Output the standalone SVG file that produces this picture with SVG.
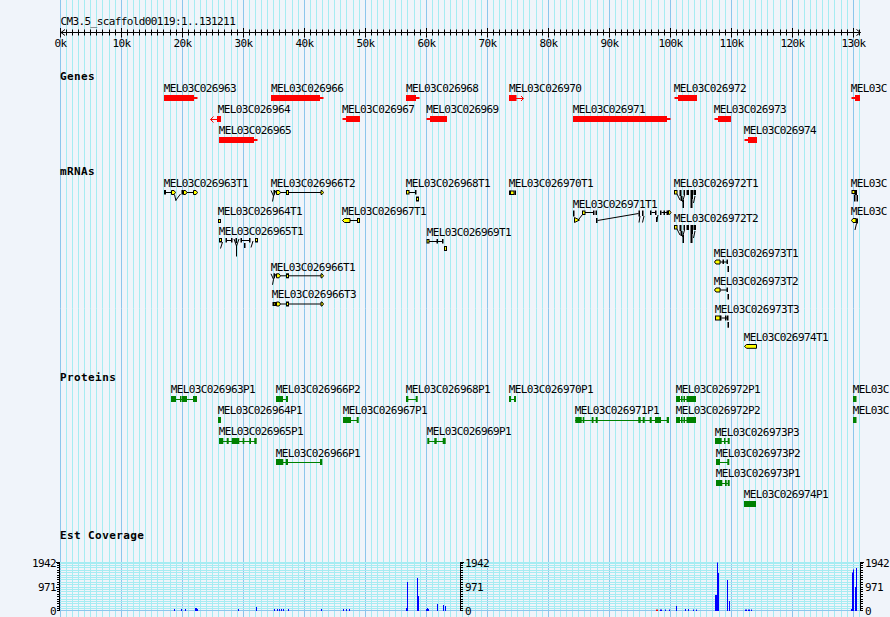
<svg xmlns="http://www.w3.org/2000/svg" width="890" height="617" viewBox="0 0 890 617">
<style>
text{font-family:"DejaVu Sans Mono","Liberation Mono",monospace;font-size:11px;letter-spacing:-0.6px;fill:#000}
.b{font-weight:bold;letter-spacing:0.4px}
.mid{text-anchor:middle}
.end{text-anchor:end}
.gene{fill:#ff0000}
.gl{stroke:#ff0000;stroke-width:1;fill:none}
.prot{fill:#008000}
.pl{stroke:#008000;stroke-width:1;fill:none}
.y{fill:#ffff00;stroke:#000;stroke-width:1}
.k{fill:#000}
.ln{stroke:#000;stroke-width:1;fill:none}
.cov{fill:#0000ff}
.hg{stroke:#a6ecf2;stroke-width:1;fill:none}
.ax{stroke:#000;stroke-width:1;fill:none}
</style>
<defs>
<pattern id="grid" patternUnits="userSpaceOnUse" x="60" y="0" width="61" height="617">
<path d="M6.5,0V617M12.5,0V617M18.5,0V617M24.5,0V617M30.5,0V617M36.5,0V617M42.5,0V617M49.5,0V617M55.5,0V617" stroke="#a6ecf2" stroke-width="1"/>
<path d="M0.5,0V617" stroke="#8cc6ec" stroke-width="1"/>
</pattern>
<pattern id="ticks" patternUnits="userSpaceOnUse" x="60" y="27" width="61" height="12">
<path d="M6.5,2.5V8.5M12.5,2.5V8.5M18.5,2.5V8.5M24.5,2.5V8.5M30.5,2.5V8.5M36.5,2.5V8.5M42.5,2.5V8.5M49.5,2.5V8.5M55.5,2.5V8.5M0.5,1V10.5" stroke="#000" stroke-width="1"/>
</pattern>
<g id="t966tail">
<polygon class="y" points="276.5,0.5 279,0.5 280.5,2.5 279,4.5 276.5,4.5"/>
<path class="ln" d="M280.5,2.5H286.5M288.5,2.5H321"/>
<rect class="y" x="286.5" y="0.5" width="2" height="4"/>
<polygon class="y" points="321,0.5 322,0.5 323.5,2.5 322,4.5 321,4.5"/>
</g>
<g id="h966">
<path class="ln" d="M271,0.5L273.5,6L276,0.5M273.5,6L272.5,11.5"/>
<rect class="k" x="273.5" y="0" width="1.5" height="4.5"/>
</g>
<g id="s972">
<rect class="y" x="674.5" y="0.5" width="2.5" height="3.5"/>
<path class="ln" d="M677,4L680,10M684.5,5L682.5,12M695,6L693.5,13"/>
<rect class="k" x="679.5" y="0" width="2" height="6"/>
<rect class="k" x="680.5" y="6" width="2" height="5"/>
<rect class="k" x="683.5" y="0" width="1.5" height="5"/>
<rect class="k" x="686.5" y="0" width="2.5" height="5"/>
<rect class="k" x="690.5" y="0" width="2.5" height="9"/>
<rect class="k" x="682.5" y="10" width="1.5" height="8"/>
<rect class="k" x="690.5" y="9" width="2" height="9"/>
<rect class="k" x="693.5" y="0" width="2.5" height="5"/>
</g>
<g id="p972">
<path class="pl" d="M676,3.5H696"/>
<rect class="prot" x="676" y="0" width="4" height="6"/>
<rect class="prot" x="681" y="0" width="1.5" height="6"/>
<rect class="prot" x="683.5" y="0" width="1.5" height="6"/>
<rect class="prot" x="686.5" y="0" width="9.5" height="6"/>
</g>
</defs>

<rect x="0" y="0" width="890" height="617" fill="#f0f4fa"/>
<rect x="60" y="0" width="801" height="617" fill="url(#grid)"/>

<g id="ruler">
<text x="60.5" y="25">CM3.5_scaffold00119:1..131211</text>
<path class="ax" d="M60.5,32.5H860.5M65,29.5L61,32.5L65,35.5M856.5,29.5L860.5,32.5L856.5,35.5"/>
<rect x="60" y="27" width="801" height="12" fill="url(#ticks)"/>
<text class="mid" x="60.5" y="46.5">0k</text>
<text class="mid" x="121.5" y="46.5">10k</text>
<text class="mid" x="182.5" y="46.5">20k</text>
<text class="mid" x="243.5" y="46.5">30k</text>
<text class="mid" x="304.5" y="46.5">40k</text>
<text class="mid" x="365.5" y="46.5">50k</text>
<text class="mid" x="426.5" y="46.5">60k</text>
<text class="mid" x="487.5" y="46.5">70k</text>
<text class="mid" x="548.5" y="46.5">80k</text>
<text class="mid" x="609.5" y="46.5">90k</text>
<text class="mid" x="670.5" y="46.5">100k</text>
<text class="mid" x="731.5" y="46.5">110k</text>
<text class="mid" x="792.5" y="46.5">120k</text>
<text class="mid" x="853.5" y="46.5">130k</text>
</g>

<g id="track-labels">
<text class="b" x="60" y="80">Genes</text>
<text class="b" x="60" y="175">mRNAs</text>
<text class="b" x="60" y="381">Proteins</text>
<text class="b" x="60" y="539">Est Coverage</text>
</g>

<g id="genes">
<g id="MEL03C026963"><text x="163.7" y="92.3">MEL03C026963</text><polygon class="gene" points="164,95 194,95 194,97 197,97 198,98 197,99 194,99 194,101 164,101"/></g>
<g id="MEL03C026966"><text x="271" y="92.3">MEL03C026966</text><polygon class="gene" points="271,95 320,95 320,97 323,97 324,98 323,99 320,99 320,101 271,101"/></g>
<g id="MEL03C026968"><text x="406" y="92.3">MEL03C026968</text><polygon class="gene" points="406,95 416,95 416,97 419,97 420,98 419,99 416,99 416,101 406,101"/></g>
<g id="MEL03C026970"><text x="509" y="92.3">MEL03C026970</text><rect class="gene" x="509" y="95" width="7.5" height="6"/><path class="gl" d="M516,98.5H523.5M521,96L523.5,98.5L521,101"/></g>
<g id="MEL03C026972"><text x="673.7" y="92.3">MEL03C026972</text><polygon class="gene" points="697,95 678,95 678,97 675,97 674,98 675,99 678,99 678,101 697,101"/></g>
<g id="MEL03C-right"><text x="850.7" y="92.3">MEL03C</text><polygon class="gene" points="860,95 855,95 855,97 852,97 851,98 852,99 855,99 855,101 860,101"/></g>
<g id="MEL03C026964"><text x="217.7" y="113.3">MEL03C026964</text><rect class="gene" x="217" y="116" width="4" height="6"/><path class="gl" d="M217,119.5H210.5M213.5,116.5L210.5,119.5L213.5,122.5"/></g>
<g id="MEL03C026967"><text x="342" y="113.3">MEL03C026967</text><polygon class="gene" points="360,116 346,116 346,118 343,118 342,119 343,120 346,120 346,122 360,122"/></g>
<g id="MEL03C026969"><text x="426.3" y="113.3">MEL03C026969</text><polygon class="gene" points="447,116 430,116 430,118 427,118 426,119 427,120 430,120 430,122 447,122"/></g>
<g id="MEL03C026971"><text x="572.7" y="113.3">MEL03C026971</text><polygon class="gene" points="573,116 667,116 667,118 670,118 671,119 670,120 667,120 667,122 573,122"/></g>
<g id="MEL03C026973"><text x="713.7" y="113.3">MEL03C026973</text><polygon class="gene" points="731,116 718,116 718,118 715,118 714,119 715,120 718,120 718,122 731,122"/></g>
<g id="MEL03C026965"><text x="218.7" y="134">MEL03C026965</text><polygon class="gene" points="219,137 254,137 254,139 257,139 258,140 257,141 254,141 254,143 219,143"/></g>
<g id="MEL03C026974"><text x="743.7" y="134">MEL03C026974</text><polygon class="gene" points="757,137 748,137 748,139 745,139 744,140 745,141 748,141 748,143 757,143"/></g>
</g>

<g id="mrnas">
<g id="MEL03C026963T1"><text x="163.7" y="187.3">MEL03C026963T1</text>
<rect class="k" x="164" y="190" width="2" height="4.5"/>
<path class="ln" d="M166,192.5H171M174.5,194.5L176,201M176,200L180.5,194M187,192.5H193.5"/>
<polygon class="y" points="171.5,190.5 174,190.5 175.5,192.5 174,194.5 171.5,194.5"/>
<rect class="k" x="181.5" y="190" width="2" height="4.5"/>
<polygon class="y" points="183.5,190.5 185.5,190.5 187,192.5 185.5,194.5 183.5,194.5"/>
<polygon class="y" points="193.5,190.5 196,190.5 197.5,192.5 196,194.5 193.5,194.5"/>
</g>
<g id="MEL03C026966T2"><text x="270.7" y="187.3">MEL03C026966T2</text><use href="#h966" y="190"/><use href="#t966tail" y="190"/></g>
<g id="MEL03C026968T1"><text x="405.7" y="187.3">MEL03C026968T1</text>
<rect class="y" x="406.5" y="190.5" width="2.5" height="3.5"/>
<path class="ln" d="M409,192.5H415"/>
<rect class="k" x="415" y="190" width="1.5" height="4.5"/>
<rect class="y" x="416.5" y="197" width="2" height="4"/>
</g>
<g id="MEL03C026970T1"><text x="508.7" y="187.3">MEL03C026970T1</text>
<rect class="k" x="509" y="190.5" width="1.5" height="4.5"/>
<rect class="y" x="510.5" y="191" width="3.5" height="3.5"/>
<rect class="k" x="514.5" y="190.5" width="1.5" height="4.5"/>
</g>
<g id="MEL03C026972T1"><text x="673.7" y="187.3">MEL03C026972T1</text><use href="#s972" y="190"/></g>
<g id="MEL03C-T-right1"><text x="850.7" y="187.3">MEL03C</text>
<rect class="y" x="852" y="190.5" width="3" height="3"/>
<rect class="k" x="854.5" y="190" width="2.5" height="5"/>
<rect class="k" x="854" y="195" width="1.5" height="6.5"/>
<rect class="k" x="856.5" y="195" width="1.5" height="6.5"/>
</g>
<g id="MEL03C026964T1"><text x="217.7" y="215">MEL03C026964T1</text><rect class="y" x="218.5" y="219.5" width="2" height="3"/></g>
<g id="MEL03C026967T1"><text x="341.7" y="215">MEL03C026967T1</text>
<polygon class="y" points="342.5,220.5 344.5,218.5 350,218.5 350,222.5 344.5,222.5"/>
<path class="ln" d="M350,220.5H357.5"/>
<rect class="y" x="357.5" y="218.5" width="2" height="4"/>
</g>
<g id="MEL03C-T-right2"><text x="850.7" y="215">MEL03C</text>
<polygon class="y" points="851.5,220.5 853,218.5 856,218.5 856,222.5 853,222.5"/>
<rect class="k" x="856" y="218.5" width="2" height="5"/>
<path class="ln" d="M856.5,223.5L855,230"/>
</g>
<g id="MEL03C026971T1"><text x="572.7" y="208.3">MEL03C026971T1</text>
<rect class="k" x="573" y="210.5" width="1.5" height="6"/>
<polygon class="y" points="574.5,217.5 579.5,220 574.5,222.5"/>
<path class="ln" d="M579,219L582.5,214.5M585,212.5H593.5M597.5,220.5L638.5,213.5M640,216L639,222.5M644,216L642.5,222.5M651.5,212.5H655M658,215L656.5,222M661.5,212.5H668.5"/>
<rect class="y" x="582.5" y="211" width="2.5" height="3.5"/>
<rect class="k" x="593" y="210.5" width="1.5" height="4.5"/>
<rect class="k" x="595.5" y="210.5" width="1.5" height="4.5"/>
<rect class="k" x="596" y="218" width="1.5" height="5"/>
<rect class="k" x="638.5" y="210.5" width="1.5" height="6"/>
<rect class="k" x="642" y="210.5" width="1.5" height="5.5"/>
<rect class="k" x="650" y="210.5" width="1.5" height="4.5"/>
<rect class="k" x="655" y="210.5" width="1.5" height="4.5"/>
<rect class="k" x="656" y="217" width="1.5" height="5"/>
<rect class="k" x="660" y="210.5" width="1.5" height="4.5"/>
<rect class="k" x="663.5" y="210.5" width="1.5" height="4.5"/>
<rect class="k" x="666.5" y="210.5" width="1.5" height="4.5"/>
<polygon class="y" points="668.5,210.5 669.5,210.5 671,212.5 669.5,214.5 668.5,214.5"/>
</g>
<g id="MEL03C026972T2"><text x="673.7" y="221.7">MEL03C026972T2</text><use href="#s972" y="225"/></g>
<g id="MEL03C026965T1"><text x="218.7" y="235">MEL03C026965T1</text>
<rect class="y" x="219.5" y="238.5" width="2" height="3.5"/>
<path class="ln" d="M222.5,242L220.5,248.5M227,240.5H231M234,239L236.5,246L239,239M236.5,246V256.5M242,240.5H249M253,241L251,247.5"/>
<rect class="k" x="225.5" y="238" width="1.5" height="4.5"/>
<rect class="k" x="231" y="238" width="1.5" height="4.5"/>
<rect class="k" x="235.5" y="238" width="1.5" height="5"/>
<rect class="k" x="240.5" y="238" width="1.5" height="4.5"/>
<rect class="k" x="249" y="238" width="1.5" height="4.5"/>
<rect class="k" x="244" y="243" width="1.5" height="5"/>
<rect class="y" x="255.5" y="238.5" width="2" height="3.5"/>
</g>
<g id="MEL03C026969T1"><text x="426.7" y="236">MEL03C026969T1</text>
<rect class="y" x="427" y="239.5" width="2" height="3.5"/>
<path class="ln" d="M429,241.5H443"/>
<rect class="k" x="436.5" y="239" width="1.5" height="4.5"/>
<rect class="k" x="442" y="239" width="1.5" height="4.5"/>
<rect class="y" x="444.5" y="246.5" width="2" height="4"/>
</g>
<g id="MEL03C026973T1"><text x="713.7" y="256.7">MEL03C026973T1</text>
<polygon class="y" points="714.5,262 716,260 720,260 720,264 716,264"/>
<path class="ln" d="M720,262H728"/>
<rect class="k" x="722.5" y="259.5" width="1.5" height="4.5"/>
<rect class="k" x="726.5" y="259.5" width="1.5" height="4.5"/>
<rect class="k" x="727.5" y="266" width="1.5" height="6"/>
</g>
<g id="MEL03C026966T1"><text x="270.7" y="270.7">MEL03C026966T1</text><use href="#h966" y="273.3"/><use href="#t966tail" y="273.3"/></g>
<g id="MEL03C026973T2"><text x="713.7" y="285">MEL03C026973T2</text>
<polygon class="y" points="714.5,290 716,288 720,288 720,292 716,292"/>
<path class="ln" d="M720,290H728"/>
<rect class="k" x="726.5" y="287.5" width="1.5" height="4.5"/>
<rect class="k" x="727.5" y="294" width="1.5" height="5.5"/>
</g>
<g id="MEL03C026966T3"><text x="271.7" y="298.3">MEL03C026966T3</text>
<rect class="k" x="272.5" y="302" width="1.5" height="4"/>
<rect class="y" x="274" y="302.5" width="1.5" height="3"/>
<path class="ln" d="M275.5,304H277"/>
<use href="#t966tail" y="301.5"/>
</g>
<g id="MEL03C026973T3"><text x="714.7" y="312.7">MEL03C026973T3</text>
<rect class="y" x="715.5" y="316" width="4.5" height="4"/>
<rect class="k" x="720" y="315.5" width="1.5" height="5"/>
<path class="ln" d="M721.5,318H728"/>
<rect class="k" x="725" y="315.5" width="1.5" height="5"/>
<rect class="k" x="727" y="315.5" width="1.5" height="5"/>
<rect class="k" x="727.5" y="322" width="1.5" height="5.7"/>
</g>
<g id="MEL03C026974T1"><text x="743.7" y="340.7">MEL03C026974T1</text>
<polygon class="y" points="744.5,346.3 746.5,344.5 756.5,344.5 756.5,348.3 746.5,348.3"/>
</g>
</g>

<g id="proteins">
<g id="MEL03C026963P1"><text x="170.7" y="393.3">MEL03C026963P1</text>
<path class="pl" d="M175,399.5H194"/>
<rect class="prot" x="171" y="396" width="5" height="6"/><rect class="prot" x="180" y="396" width="1.5" height="6"/><rect class="prot" x="182" y="396" width="5" height="6"/><rect class="prot" x="193" y="396" width="4" height="6"/>
</g>
<g id="MEL03C026966P2"><text x="275.7" y="393.3">MEL03C026966P2</text>
<path class="pl" d="M282,399.5H286"/>
<rect class="prot" x="276" y="396" width="7" height="6"/><rect class="prot" x="286" y="396" width="2" height="6"/>
</g>
<g id="MEL03C026968P1"><text x="405.7" y="393.3">MEL03C026968P1</text>
<path class="pl" d="M408,399.5H416"/>
<rect class="prot" x="406" y="396" width="2.3" height="6"/><rect class="prot" x="415.7" y="396" width="2" height="6"/>
</g>
<g id="MEL03C026970P1"><text x="508.7" y="393.3">MEL03C026970P1</text>
<path class="pl" d="M511,399.5H514"/>
<rect class="prot" x="509" y="396" width="2" height="6"/><rect class="prot" x="514" y="396" width="2" height="6"/>
</g>
<g id="MEL03C026972P1"><text x="675.7" y="393.3">MEL03C026972P1</text><use href="#p972" y="396"/></g>
<g id="MEL03C-P-right1"><text x="852.7" y="393.3">MEL03C</text><rect class="prot" x="853" y="396" width="3.5" height="6"/></g>
<g id="MEL03C026964P1"><text x="217.7" y="414">MEL03C026964P1</text><rect class="prot" x="218" y="417" width="3" height="6"/></g>
<g id="MEL03C026967P1"><text x="342.7" y="414">MEL03C026967P1</text>
<path class="pl" d="M350,420.5H357"/>
<rect class="prot" x="343" y="417" width="8" height="6"/><rect class="prot" x="356.7" y="417" width="2" height="6"/>
</g>
<g id="MEL03C026971P1"><text x="574.7" y="414">MEL03C026971P1</text>
<path class="pl" d="M575,420.5H669"/>
<rect class="prot" x="575.3" y="417" width="6.4" height="6"/><rect class="prot" x="582.7" y="417" width="1.6" height="6"/><rect class="prot" x="591.7" y="417" width="1.8" height="6"/><rect class="prot" x="595.7" y="417" width="2" height="6"/><rect class="prot" x="638.3" y="417" width="2.4" height="6"/><rect class="prot" x="642.7" y="417" width="2" height="6"/><rect class="prot" x="649.7" y="417" width="2" height="6"/><rect class="prot" x="655" y="417" width="6" height="6"/><rect class="prot" x="666.7" y="417" width="2.3" height="6"/>
</g>
<g id="MEL03C026972P2"><text x="675.7" y="414">MEL03C026972P2</text><use href="#p972" y="417"/></g>
<g id="MEL03C-P-right2"><text x="852.7" y="414">MEL03C</text><rect class="prot" x="853" y="417" width="3.5" height="6"/></g>
<g id="MEL03C026965P1"><text x="218.7" y="435">MEL03C026965P1</text>
<path class="pl" d="M219,441.5H256"/>
<rect class="prot" x="219" y="438" width="4.3" height="6"/><rect class="prot" x="226.7" y="438" width="2" height="6"/><rect class="prot" x="231.7" y="438" width="7.6" height="6"/><rect class="prot" x="242.7" y="438" width="1.6" height="6"/><rect class="prot" x="249.3" y="438" width="1.7" height="6"/><rect class="prot" x="254.3" y="438" width="2.4" height="6"/>
</g>
<g id="MEL03C026969P1"><text x="426.7" y="435">MEL03C026969P1</text>
<path class="pl" d="M428,441.5H445"/>
<rect class="prot" x="427.3" y="438" width="2" height="6"/><rect class="prot" x="434.3" y="438" width="2.4" height="6"/><rect class="prot" x="442.7" y="438" width="3" height="6"/>
</g>
<g id="MEL03C026973P3"><text x="714.7" y="435.7">MEL03C026973P3</text>
<path class="pl" d="M721,441.5H729"/>
<rect class="prot" x="715" y="438" width="6.7" height="6"/><rect class="prot" x="724" y="438" width="1.5" height="6"/><rect class="prot" x="727.7" y="438" width="2" height="6"/>
</g>
<g id="MEL03C026966P1"><text x="275.7" y="456.7">MEL03C026966P1</text>
<path class="pl" d="M283,462.5H321"/>
<rect class="prot" x="276" y="459" width="7.3" height="6"/><rect class="prot" x="285.7" y="459" width="2.3" height="6"/><rect class="prot" x="320" y="459" width="2.3" height="6"/>
</g>
<g id="MEL03C026973P2"><text x="715.7" y="456.7">MEL03C026973P2</text>
<path class="pl" d="M720,462.5H728"/>
<rect class="prot" x="716" y="459" width="4" height="6"/><rect class="prot" x="727.3" y="459" width="2" height="6"/>
</g>
<g id="MEL03C026973P1"><text x="715.7" y="477.3">MEL03C026973P1</text>
<path class="pl" d="M722,483.5H729"/>
<rect class="prot" x="716" y="480" width="6.3" height="6"/><rect class="prot" x="725" y="480" width="1.7" height="6"/><rect class="prot" x="727.7" y="480" width="2" height="6"/>
</g>
<g id="MEL03C026974P1"><text x="743.7" y="498.3">MEL03C026974P1</text><rect class="prot" x="744" y="501" width="12" height="6"/></g>
</g>

<g id="est-coverage">
<rect x="60" y="562" width="801" height="2" fill="#a6ecf2"/>
<path class="hg" d="M60,565.5H861M60,567.5H861M60,570.5H861M60,572.5H861M60,575.5H861M60,577.5H861M60,579.5H861M60,582.5H861M60,584.5H861M60,587.5H861M60,589.5H861M60,591.5H861M60,594.5H861M60,596.5H861M60,599.5H861M60,601.5H861M60,603.5H861M60,606.5H861M60,608.5H861"/>
<path d="M60,610.5H861" stroke="#8cc6ec" stroke-width="1"/>
<path class="ax" d="M59.5,562V611M57,563.5H59.5M57,565.5H59.5M57,567.5H59.5M57,570.5H59.5M57,572.5H59.5M57,575.5H59.5M57,577.5H59.5M57,579.5H59.5M57,582.5H59.5M57,584.5H59.5M57,587.5H59.5M57,589.5H59.5M57,591.5H59.5M57,594.5H59.5M57,596.5H59.5M57,599.5H59.5M57,601.5H59.5M57,603.5H59.5M57,606.5H59.5M57,608.5H59.5M57,610.5H59.5M56,562.5H59.5M56,587.5H59.5"/>
<path class="ax" d="M460.5,562V611M460.5,563.5H463M460.5,565.5H463M460.5,567.5H463M460.5,570.5H463M460.5,572.5H463M460.5,575.5H463M460.5,577.5H463M460.5,579.5H463M460.5,582.5H463M460.5,584.5H463M460.5,587.5H463M460.5,589.5H463M460.5,591.5H463M460.5,594.5H463M460.5,596.5H463M460.5,599.5H463M460.5,601.5H463M460.5,603.5H463M460.5,606.5H463M460.5,608.5H463M460.5,610.5H463M460.5,562.5H464"/>
<path class="ax" d="M860.5,562V611M860.5,563.5H863M860.5,565.5H863M860.5,567.5H863M860.5,570.5H863M860.5,572.5H863M860.5,575.5H863M860.5,577.5H863M860.5,579.5H863M860.5,582.5H863M860.5,584.5H863M860.5,587.5H863M860.5,589.5H863M860.5,591.5H863M860.5,594.5H863M860.5,596.5H863M860.5,599.5H863M860.5,601.5H863M860.5,603.5H863M860.5,606.5H863M860.5,608.5H863M860.5,610.5H863M860.5,562.5H864"/>
<text class="end" x="56" y="566.5">1942</text>
<text class="end" x="56" y="591">971</text>
<text class="end" x="56" y="615">0</text>
<text x="465" y="566.5">1942</text>
<text x="465" y="591">971</text>
<text x="465" y="615">0</text>
<text x="865" y="566.5">1942</text>
<text x="865" y="591">971</text>
<text x="865" y="615">0</text>
<g class="cov">
<rect x="174" y="609" width="1" height="2"/><rect x="181" y="609" width="1" height="2"/><rect x="185" y="609" width="1" height="2"/><rect x="195" y="608" width="2" height="3"/><rect x="197" y="609" width="1" height="2"/><rect x="238" y="609" width="1" height="2"/><rect x="256" y="607" width="1" height="4"/><rect x="274" y="609" width="1" height="2"/><rect x="277" y="609" width="1" height="2"/><rect x="279" y="609" width="1" height="2"/><rect x="281" y="609" width="1" height="2"/><rect x="283" y="609" width="1" height="2"/><rect x="288" y="609" width="1" height="2"/><rect x="321" y="609" width="1" height="2"/><rect x="343" y="609" width="1" height="2"/><rect x="346" y="609" width="1" height="2"/><rect x="349" y="609" width="1" height="2"/>
<rect x="406" y="608" width="1" height="3"/><rect x="407" y="582" width="1" height="29"/><rect x="417" y="578" width="1" height="33"/><rect x="418" y="596" width="1" height="15"/><rect x="426" y="609" width="3" height="2"/><rect x="427" y="608" width="1" height="3"/><rect x="437" y="604" width="1" height="7"/><rect x="443" y="605" width="1" height="6"/><rect x="445" y="606" width="1" height="5"/>
<rect x="660" y="609.5" width="2" height="1.5"/><rect x="665" y="609.5" width="1" height="1.5"/><rect x="669" y="609.5" width="1" height="1.5"/><rect x="676" y="606" width="1" height="5"/><rect x="685" y="609" width="1" height="2"/><rect x="688" y="609" width="1" height="2"/><rect x="693" y="609.5" width="1" height="1.5"/><rect x="696" y="609.5" width="1" height="1.5"/>
<rect x="715" y="595" width="3" height="16"/><rect x="717" y="562.5" width="1" height="48.5"/><rect x="718" y="573" width="1" height="38"/><rect x="727" y="580" width="1" height="31"/><rect x="729" y="601" width="1" height="10"/>
<rect x="745" y="609.5" width="2" height="1.5"/><rect x="748" y="609.5" width="2" height="1.5"/><rect x="751" y="609.5" width="1" height="1.5"/>
<rect x="851" y="609" width="3" height="2"/><rect x="852" y="572.5" width="1" height="38.5"/><rect x="853" y="569.5" width="1" height="41.5"/><rect x="855" y="587" width="1" height="24"/><rect x="856" y="568" width="1" height="43"/>
</g>
<rect x="656" y="609.5" width="2" height="1.5" fill="#ff0000"/>
</g>
</svg>
